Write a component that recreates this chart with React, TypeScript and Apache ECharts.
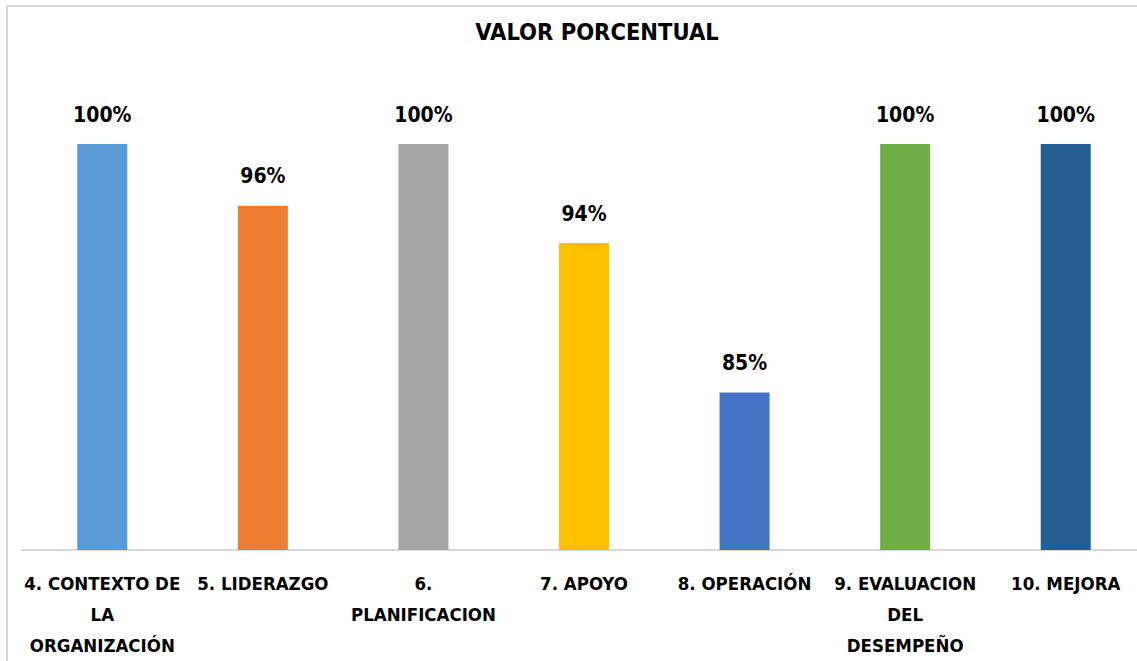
import React, { useEffect, useRef } from "react";
import * as echarts from "echarts";

const categories = [
  "4. CONTEXTO DE LA ORGANIZACIÓN",
  "5. LIDERAZGO",
  "6. PLANIFICACION",
  "7. APOYO",
  "8. OPERACIÓN",
  "9. EVALUACION DEL DESEMPEÑO",
  "10. MEJORA",
];
const tickLabels = [
  "4. CONTEXTO DE\nLA\nORGANIZACIÓN",
  "5. LIDERAZGO",
  "6.\nPLANIFICACION",
  "7. APOYO",
  "8. OPERACIÓN",
  "9. EVALUACION\nDEL\nDESEMPEÑO",
  "10. MEJORA",
];
const values = [100, 96.2, 100, 93.9, 84.7, 100, 100];
const colors = ["#5B9BD5", "#ED7D31", "#A5A5A5", "#FFC000", "#4472C4", "#70AD47", "#255E91"];

const FONT = "'Liberation Sans Narrow', 'DejaVu Sans Condensed', 'Noto Sans', sans-serif";

export default function App() {
  const ref = useRef<HTMLDivElement>(null);
  useEffect(() => {
    if (!ref.current) return;
    const chart = echarts.init(ref.current, undefined, { renderer: "svg" });
    chart.setOption({
      animation: false,
      backgroundColor: "#ffffff",
      title: {
        text: "VALOR PORCENTUAL",
        left: 592,
        top: 15,
        textAlign: "center",
        textStyle: { fontFamily: FONT, fontWeight: "bold", fontSize: 23.5, color: "#000" },
      },
      graphic: [
        {
          type: "rect",
          shape: { x: 7, y: 6, width: 1200, height: 700 },
          style: { fill: "none", stroke: "#d9d9d9", lineWidth: 2 },
          silent: true,
        },
      ],
      grid: { left: 22, top: 144, width: 1124, height: 406, outerBoundsMode: "none" },
      xAxis: {
        type: "category",
        data: categories,
        axisLine: { lineStyle: { color: "#d9d9d9", width: 2 } },
        axisTick: { show: false },
        axisLabel: {
          interval: 0,
          margin: 18,
          lineHeight: 31,
          fontFamily: FONT,
          fontWeight: "bold",
          fontSize: 18.5,
          color: "#000",
          formatter: (_v: string, i: number) => tickLabels[i],
        },
      },
      yAxis: {
        type: "value",
        min: 75,
        max: 100,
        show: false,
        splitLine: { show: false },
      },
      series: [
        {
          type: "bar",
          barWidth: 50,
          data: values.map((v, i) => ({ value: v, itemStyle: { color: colors[i] } })),
          label: {
            show: true,
            position: "top",
            distance: 19,
            fontFamily: FONT,
            fontWeight: "bold",
            fontSize: 21,
            color: "#000",
            formatter: (p: any) => Math.round(p.value) + "%",
          },
        },
      ],
    });
    return () => chart.dispose();
  }, []);
  return (
    <div
      ref={ref}
      style={{ position: "fixed", left: 0, top: 0, width: 1137, height: 661 }}
    />
  );
}
